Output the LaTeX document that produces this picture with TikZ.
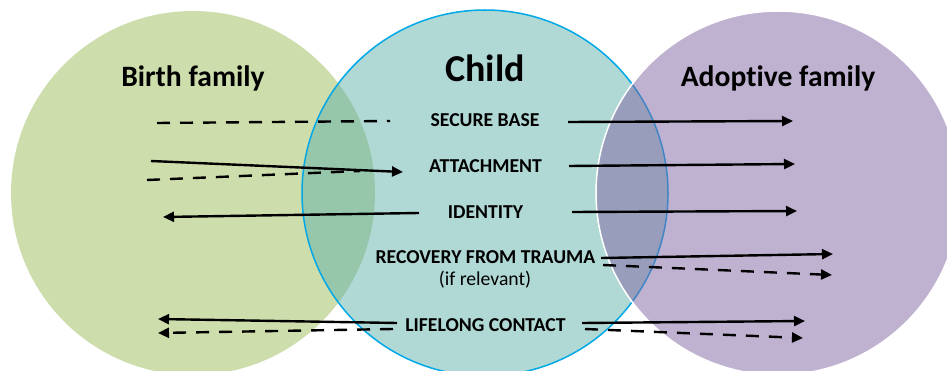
\documentclass[tikz,border=0pt]{standalone}
\usepackage{fontspec}
\setmainfont{Carlito}[Ligatures=NoCommon]
\usetikzlibrary{arrows.meta}
\definecolor{birthgreen}{HTML}{9BBB59}
\definecolor{childteal}{HTML}{61B1A9}
\definecolor{adoptpurple}{HTML}{8064A2}
\definecolor{childblue}{HTML}{00A8E8}
\newcommand{\ringradius}{182pt}

\begin{document}
\begin{tikzpicture}[x=1pt,y=-1pt,
  ring/.style={fill opacity=.5},
  family/.style={font=\bfseries\fontsize{29.6}{32}\selectfont, anchor=base},
  need/.style={font=\bfseries\fontsize{19.7}{22}\selectfont, anchor=base},
  note/.style={font=\fontsize{19.7}{22}\selectfont, anchor=base},
  link/.style={line width=2.4pt, -{Triangle[length=11pt,width=10pt]}},
  tie/.style={line width=2.4pt},
  broken/.style={dash pattern=on 13pt off 10pt}]

\clip (0,0) rectangle (947,371);

%% Three overlapping circles: birth family, child, adoptive family
\fill[ring, birthgreen] (193,193) circle[radius=\ringradius];
\draw[ring, fill=childteal, draw opacity=1, draw=childblue, line width=1.5pt] (485,193) circle[radius=183pt];
\draw[ring, fill=adoptpurple, draw opacity=1, draw=white, line width=1.5pt] (778,193) circle[radius=\ringradius];

%% Headings
\node[family] (birth) at (193,87) {Birth family};
\node[family, font=\bfseries\fontsize{38}{40}\selectfont] (child) at (485,82) {Child};
\node[family] (adoptive) at (778,87) {Adoptive family};

%% Needs of the child
\node[need] (secure) at (485,127) {SECURE BASE};
\node[need] (attach) at (485.5,173) {ATTACHMENT};
\node[need] (identity) at (485.5,219) {IDENTITY};
\node[need] (recovery) at (485.5,264) {RECOVERY FROM TRAUMA};
\node[note] (relevant) at (485,285) {(if relevant)};
\node[need] (contact) at (485.5,331.5) {LIFELONG CONTACT};

%% End points of the arrows
\coordinate (sbA) at (157,123);   \coordinate (sbB) at (390,121);
\coordinate (sbC) at (568,122);   \coordinate (sbD) at (793,121);
\coordinate (atA) at (151,161);   \coordinate (atB) at (403,172);
\coordinate (atC) at (147,180);   \coordinate (atD) at (360,171);
\coordinate (atE) at (569,166);   \coordinate (atF) at (795,164);
\coordinate (idA) at (419,213);   \coordinate (idB) at (163,217);
\coordinate (idC) at (572,212);   \coordinate (idD) at (797,211);
\coordinate (reA) at (601,258);   \coordinate (reB) at (833,254);
\coordinate (reC) at (603,265);   \coordinate (reD) at (832,275);
\coordinate (lcA) at (397,323);   \coordinate (lcB) at (158,319);
\coordinate (lcC) at (393,329);   \coordinate (lcD) at (158,333);
\coordinate (lcE) at (582,323);   \coordinate (lcF) at (805,321);
\coordinate (lcG) at (585,329);   \coordinate (lcH) at (803,338);

%% Secure base
\draw[tie, broken] (sbA) -- (sbB);
\draw[link] (sbC) -- (sbD);
%% Attachment
\draw[link] (atA) -- (atB);
\draw[tie, broken] (atC) -- (atD);
\draw[link] (atE) -- (atF);
%% Identity
\draw[link] (idA) -- (idB);
\draw[link] (idC) -- (idD);
%% Recovery from trauma
\draw[link] (reA) -- (reB);
\draw[link, broken] (reC) -- (reD);
%% Lifelong contact
\draw[link] (lcA) -- (lcB);
\draw[link, broken] (lcC) -- (lcD);
\draw[link] (lcE) -- (lcF);
\draw[link, broken] (lcG) -- (lcH);

\end{tikzpicture}
\end{document}
